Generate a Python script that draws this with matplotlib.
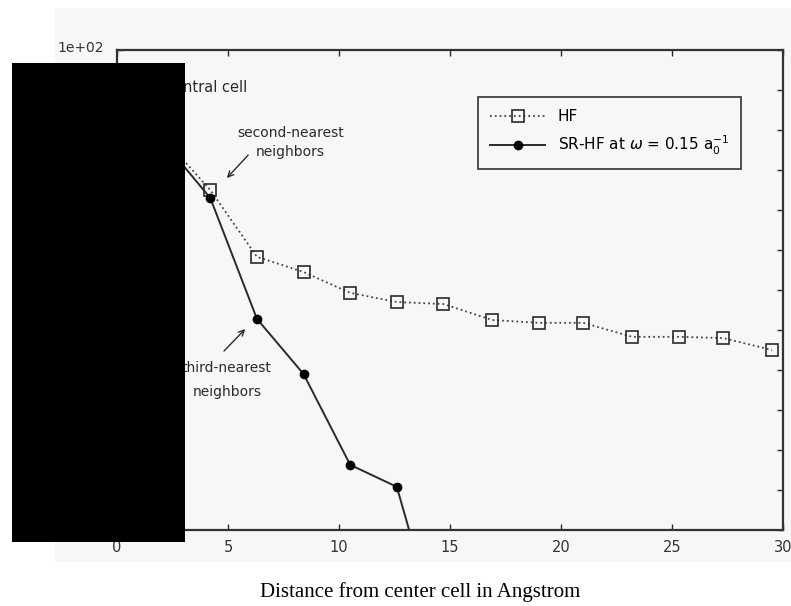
import numpy as np
import matplotlib
matplotlib.use('Agg')
import matplotlib.pyplot as plt
from matplotlib.patches import Rectangle

# distance of each shell from the central cell (Angstrom)
dist = [0.0, 2.1, 4.2, 6.3, 8.4, 10.5, 12.6, 14.7, 16.9, 19.0, 21.0, 23.2, 25.3, 27.3, 29.5]
# plain Hartree-Fock
hf = [1.10, 0.98, 0.85, 0.683, 0.645, 0.593, 0.570, 0.565, 0.525, 0.518, 0.518, 0.483, 0.483, 0.480, 0.450]
# screened-range HF, omega = 0.15 / a0
srhf_dist = [0.0, 2.1, 4.2, 6.3, 8.4, 10.5, 12.6, 14.7]
srhf = [1.10, 0.97, 0.83, 0.528, 0.390, 0.163, 0.108, -0.30]

xticks = [0, 5, 10, 15, 20, 25, 30]
yticks = np.arange(0, 1.21, 0.1)

bg = '#f7f7f7'
ink = '#2a2a2a'

fig = plt.figure(figsize=(7.91, 6.06), dpi=100, facecolor='white')
fig.patches.append(Rectangle((0.0695, 0.0726), 0.9305, 0.914, transform=fig.transFigure,
                             facecolor=bg, edgecolor='none', zorder=0))

ax = fig.add_axes([0.148, 0.1254, 0.842, 0.792])
ax.set_zorder(2)
ax.set_facecolor(bg)

ax.plot(dist, hf, linestyle=':', color='#444444', linewidth=1.3, marker='s', markersize=8,
        markerfacecolor='none', markeredgecolor=ink, markeredgewidth=1.2, label='HF', zorder=3)
ax.plot(srhf_dist, srhf, linestyle='-', color=ink, linewidth=1.4, marker='o', markersize=6,
        markerfacecolor='black', markeredgecolor='black',
        label=r'SR-HF at $\omega$ = 0.15 a$_0^{-1}$', zorder=3)

ax.set_xlim(0, 30)
ax.set_ylim(0, 1.2)
ax.set_xticks(xticks)
ax.set_yticks(yticks)
ax.set_yticklabels([])
ax.tick_params(direction='in', length=4, width=1, top=True, right=True, colors=ink,
               labelsize=10.5, labelcolor='#333333', pad=7)
for s in ax.spines.values():
    s.set_linewidth(1.6)
    s.set_color('#333333')

# shell labels and pointers
ax.text(5.85, 1.1075, 'central cell', fontsize=10.5, color=ink, ha='right', va='center')
ax.text(7.8, 0.97, 'second-nearest\nneighbors', fontsize=10, color=ink,
        ha='center', va='center', linespacing=1.45)
ax.annotate('', xy=(4.86, 0.875), xytext=(5.99, 0.9425),
            arrowprops=dict(arrowstyle='->', color=ink, lw=1))
ax.text(4.95, 0.374, 'third-nearest\nneighbors', fontsize=10, color=ink,
        ha='center', va='center', linespacing=1.9)
ax.annotate('', xy=(5.86, 0.5075), xytext=(4.73, 0.4425),
            arrowprops=dict(arrowstyle='->', color=ink, lw=1))

leg = ax.legend(loc='upper right', bbox_to_anchor=(0.937, 0.902), borderaxespad=0,
                fontsize=11, fancybox=False, framealpha=1, edgecolor='#333333',
                facecolor=bg, handlelength=3.6, borderpad=0.8, labelspacing=0.6)
leg.get_frame().set_linewidth(1.2)

fig.text(0.072, 0.921, '1e+02', fontsize=10, color='#333333', ha='left', va='center')

fig.text(0.531, 0.023, 'Distance from center cell in Angstrom', fontsize=15,
         family='Liberation Serif', ha='center', va='center')

# blanked-out block over the left axis
fig.patches.append(Rectangle((0.0152, 0.1056), 0.2187, 0.790, transform=fig.transFigure,
                             facecolor='black', edgecolor='none', zorder=10))

fig.savefig('out.png', dpi=100, facecolor='white')
